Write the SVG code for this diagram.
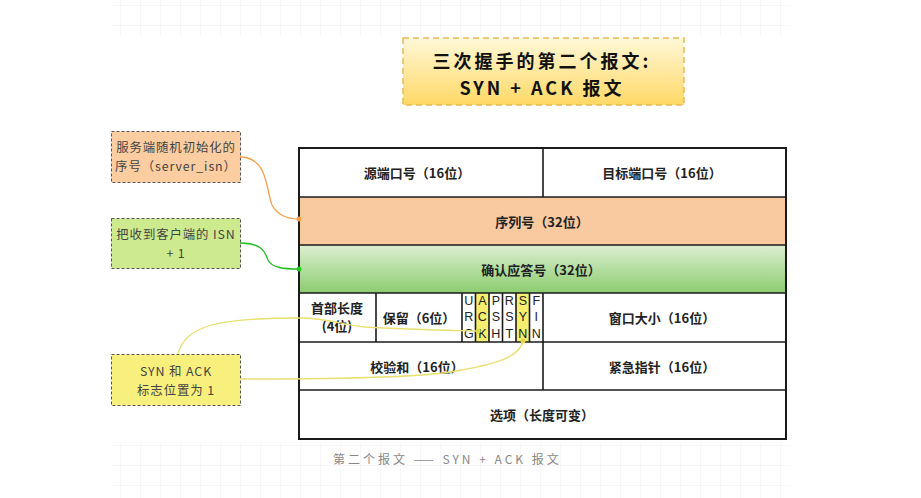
<svg xmlns="http://www.w3.org/2000/svg" width="921" height="498" viewBox="0 0 921 498">
  <defs>
    <pattern id="grid" width="20" height="20" patternUnits="userSpaceOnUse" x="0" y="5">
      <path d="M0 0H20M0 0V20" fill="none" stroke="#e9e9e9" stroke-width="1"/>
    </pattern>
    <linearGradient id="titleGrad" x1="0" y1="0" x2="0" y2="1">
      <stop offset="0" stop-color="#fff8d8"/>
      <stop offset="1" stop-color="#ffd966"/>
    </linearGradient>
    <linearGradient id="greenGrad" x1="0" y1="0" x2="0" y2="1">
      <stop offset="0" stop-color="#dcefd2"/>
      <stop offset="1" stop-color="#8ccc6e"/>
    </linearGradient>
    <style>
      .cell { font-family: "Noto Sans CJK SC", "Noto Sans", sans-serif; font-size: 13px; font-weight: bold; fill: #222; text-anchor: middle; }
      .note { font-family: "Noto Sans CJK SC", "Noto Sans", sans-serif; font-size: 12.4px; letter-spacing: 0.9px; fill: #444; text-anchor: middle; }
      .title { font-family: "Noto Sans CJK SC", sans-serif; font-size: 18px; font-weight: bold; letter-spacing: 3px; fill: #111; text-anchor: middle; }
      .flag { font-family: "Liberation Sans", sans-serif; font-size: 12.5px; fill: #222; text-anchor: middle; }
      .border { fill: none; stroke: #1a1a1a; stroke-width: 2; }
      .div { stroke: #1a1a1a; stroke-width: 1.6; }
      .notebox { stroke: #555; stroke-width: 1; stroke-dasharray: 3 2; }
    </style>
  </defs>

  <rect width="921" height="498" fill="#ffffff"/>
  <rect x="112" y="0" width="678" height="36" fill="url(#grid)" opacity="0.8"/>
  <rect x="112" y="442" width="678" height="56" fill="url(#grid)" opacity="0.8"/>

  <g id="title">
    <rect x="403" y="38" width="281" height="67" fill="url(#titleGrad)" stroke="#e6bb55" stroke-width="1.5" stroke-dasharray="6 4"/>
    <text class="title" x="542" y="68">三次握手的第二个报文:</text>
    <text class="title" x="542" y="95">SYN + ACK 报文</text>
  </g>

  <g id="row-ports">
    <rect x="299" y="148" width="487" height="49" fill="#ffffff"/>
    <line class="div" x1="543" y1="148" x2="543" y2="197"/>
    <text class="cell" x="417" y="178">源端口号（16位）</text>
    <text class="cell" x="662" y="178">目标端口号（16位）</text>
  </g>

  <g id="row-seq">
    <rect x="299" y="197" width="487" height="48" fill="#f9c9a0"/>
    <text class="cell" x="542" y="227">序列号（32位）</text>
  </g>

  <g id="row-ack">
    <rect x="299" y="245" width="487" height="48" fill="url(#greenGrad)"/>
    <text class="cell" x="541" y="275">确认应答号（32位）</text>
  </g>

  <g id="row-flags">
    <rect x="299" y="293" width="487" height="49" fill="#ffffff"/>
    <rect x="475.5" y="293" width="13.5" height="49" fill="#f6ee6e"/>
    <rect x="516" y="293" width="13.5" height="49" fill="#f6ee6e"/>
    <line class="div" x1="376" y1="293" x2="376" y2="342"/>
    <line class="div" x1="462" y1="293" x2="462" y2="342"/>
    <line class="div" x1="475.5" y1="293" x2="475.5" y2="342" stroke-width="1.2"/>
    <line class="div" x1="489" y1="293" x2="489" y2="342" stroke-width="1.2"/>
    <line class="div" x1="502.5" y1="293" x2="502.5" y2="342" stroke-width="1.2"/>
    <line class="div" x1="516" y1="293" x2="516" y2="342" stroke-width="1.2"/>
    <line class="div" x1="529.5" y1="293" x2="529.5" y2="342" stroke-width="1.2"/>
    <line class="div" x1="543" y1="293" x2="543" y2="342"/>
    <text class="cell" x="337" y="313">首部长度</text>
    <text class="cell" x="337" y="331">(4位)</text>
    <text class="cell" x="419" y="323">保留（6位）</text>
    <text class="flag" x="468.8" y="305">U</text>
    <text class="flag" x="468.8" y="321">R</text>
    <text class="flag" x="468.8" y="338">G</text>
    <text class="flag" x="482.3" y="305">A</text>
    <text class="flag" x="482.3" y="321">C</text>
    <text class="flag" x="482.3" y="338">K</text>
    <text class="flag" x="495.8" y="305">P</text>
    <text class="flag" x="495.8" y="321">S</text>
    <text class="flag" x="495.8" y="338">H</text>
    <text class="flag" x="509.3" y="305">R</text>
    <text class="flag" x="509.3" y="321">S</text>
    <text class="flag" x="509.3" y="338">T</text>
    <text class="flag" x="522.8" y="305">S</text>
    <text class="flag" x="522.8" y="321">Y</text>
    <text class="flag" x="522.8" y="338">N</text>
    <text class="flag" x="536.3" y="305">F</text>
    <text class="flag" x="536.3" y="321">I</text>
    <text class="flag" x="536.3" y="338">N</text>
    <text class="cell" x="662" y="323">窗口大小（16位）</text>
  </g>

  <g id="row-checksum">
    <rect x="299" y="342" width="487" height="48" fill="#ffffff"/>
    <line class="div" x1="543" y1="342" x2="543" y2="390"/>
    <text class="cell" x="417" y="372">校验和（16位）</text>
    <text class="cell" x="662" y="372">紧急指针（16位）</text>
  </g>

  <g id="row-options">
    <rect x="299" y="390" width="487" height="49" fill="#ffffff"/>
    <text class="cell" x="542" y="420">选项（长度可变）</text>
  </g>

  <g id="table-lines">
    <rect class="border" x="299" y="148" width="487" height="291"/>
    <line class="div" x1="299" y1="197" x2="786" y2="197"/>
    <line class="div" x1="299" y1="245" x2="786" y2="245"/>
    <line class="div" x1="299" y1="293" x2="786" y2="293"/>
    <line class="div" x1="299" y1="342" x2="786" y2="342"/>
    <line class="div" x1="299" y1="390" x2="786" y2="390"/>
  </g>

  <g id="note-seq">
    <rect class="notebox" x="111.5" y="131.5" width="129" height="51" fill="#fccda0"/>
    <text class="note" x="176" y="152">服务端随机初始化的</text>
    <text class="note" x="176" y="170.5">序号（server_isn）</text>
  </g>

  <g id="note-ack">
    <rect class="notebox" x="111.5" y="218.5" width="129" height="50" fill="#cdea8e"/>
    <text class="note" x="176" y="239">把收到客户端的 ISN</text>
    <text class="note" x="176" y="257.5">+ 1</text>
  </g>

  <g id="note-flags">
    <rect class="notebox" x="111.5" y="354.5" width="129" height="51" fill="#f8f07c"/>
    <text class="note" x="176" y="376">SYN 和 ACK</text>
    <text class="note" x="176" y="394.5">标志位置为 1</text>
  </g>

  <g id="connectors" fill="none" stroke-width="1.3">
    <path d="M240 157 C268 157 266 190 272 205 C278 216 288 219 299 219" stroke="#f0a04a"/>
    <circle cx="299" cy="219" r="2.5" fill="#f0a04a" stroke="none"/>
    <path d="M240 243 C262 243 265 252 268 260 C272 268 284 269 299 269" stroke="#22bb22"/>
    <circle cx="299" cy="269" r="2.5" fill="#22cc22" stroke="none"/>
    <path d="M178 354 C186 326 215 318 300 318 C330 318 340 325 365 327 C400 329 440 330 478 331" stroke="#e8e070"/>
    <circle cx="478" cy="331" r="2.5" fill="#e0d84a" stroke="none"/>
    <path d="M240 379 C330 379 420 377 450 372 C500 364 520 356 523 341" stroke="#e8e070"/>
    <circle cx="523" cy="341" r="2.5" fill="#e0d84a" stroke="none"/>
  </g>

  <text x="333" y="464" font-family="Noto Sans CJK SC, sans-serif" font-size="12" fill="#888" letter-spacing="3">第二个报文 —— SYN + ACK 报文</text>
</svg>
